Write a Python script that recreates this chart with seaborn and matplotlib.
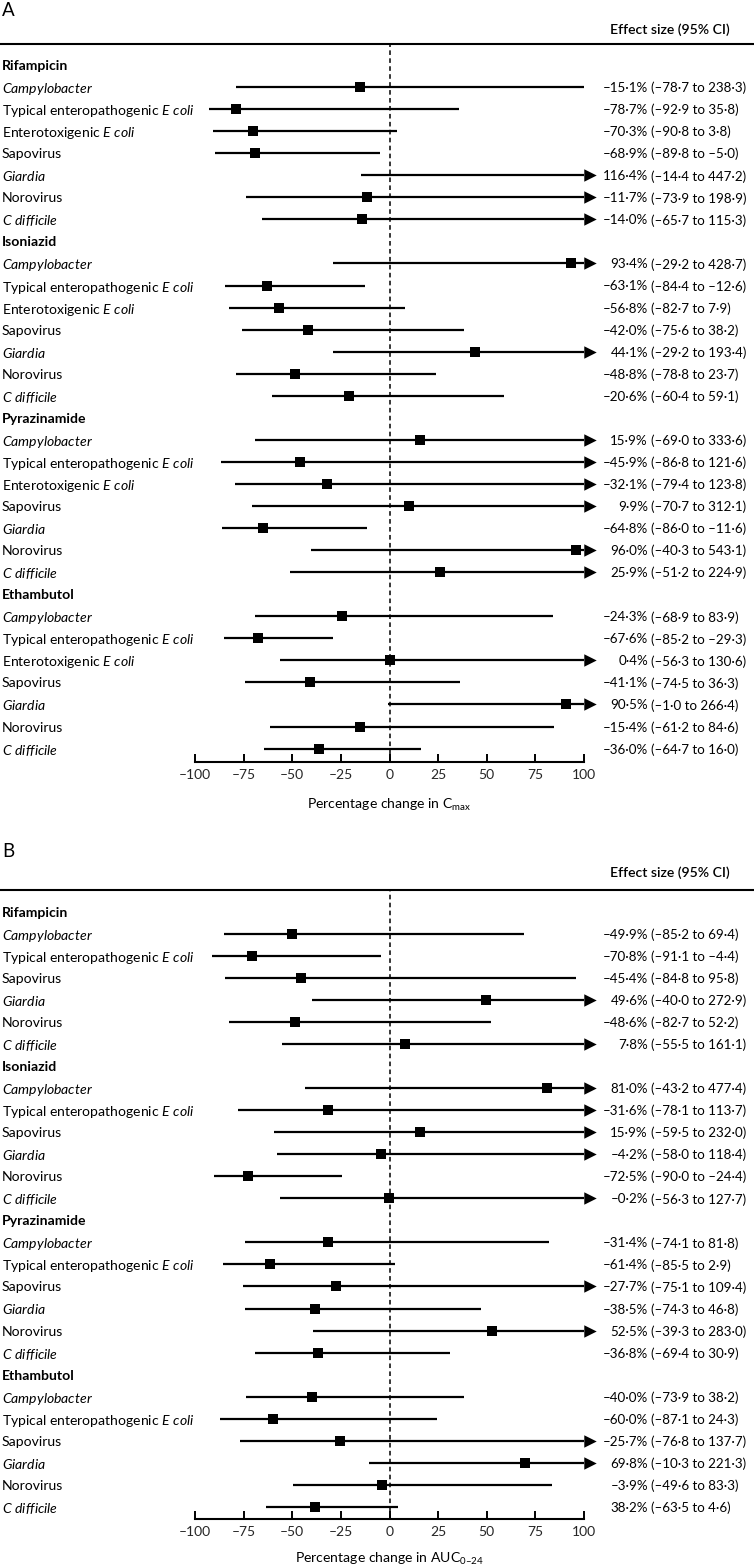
import numpy as np
import pandas as pd
import matplotlib
matplotlib.use('Agg')
import matplotlib.pyplot as plt
import matplotlib.transforms as mtransforms
from matplotlib.lines import Line2D
import seaborn as sns

drugs = ['Rifampicin', 'Isoniazid', 'Pyrazinamide', 'Ethambutol']

# panel A: Cmax
pathogens_cmax = ['Campylobacter', 'Typical enteropathogenic E coli', 'Enterotoxigenic E coli',
                  'Sapovirus', 'Giardia', 'Norovirus', 'C difficile']
cmax_est = [[-15.1, -78.7, -70.3, -68.9, 116.4, -11.7, -14.0],
            [93.4, -63.1, -56.8, -42.0, 44.1, -48.8, -20.6],
            [15.9, -45.9, -32.1, 9.9, -64.8, 96.0, 25.9],
            [-24.3, -67.6, 0.4, -41.1, 90.5, -15.4, -36.0]]
cmax_lo = [[-78.7, -92.9, -90.8, -89.8, -14.4, -73.9, -65.7],
           [-29.2, -84.4, -82.7, -75.6, -29.2, -78.8, -60.4],
           [-69.0, -86.8, -79.4, -70.7, -86.0, -40.3, -51.2],
           [-68.9, -85.2, -56.3, -74.5, -1.0, -61.2, -64.7]]
cmax_hi = [[238.3, 35.8, 3.8, -5.0, 447.2, 198.9, 115.3],
           [428.7, -12.6, 7.9, 38.2, 193.4, 23.7, 59.1],
           [333.6, 121.6, 123.8, 312.1, -11.6, 543.1, 224.9],
           [83.9, -29.3, 130.6, 36.3, 266.4, 84.6, 16.0]]
# the source draws this one without an arrowhead
cmax_no_arrow = {('Rifampicin', 'Campylobacter')}

# panel B: AUC0-24
pathogens_auc = ['Campylobacter', 'Typical enteropathogenic E coli', 'Sapovirus',
                 'Giardia', 'Norovirus', 'C difficile']
auc_est = [[-49.9, -70.8, -45.4, 49.6, -48.6, 7.8],
           [81.0, -31.6, 15.9, -4.2, -72.5, -0.2],
           [-31.4, -61.4, -27.7, -38.5, 52.5, -36.8],
           [-40.0, -60.0, -25.7, 69.8, -3.9, -38.2]]
auc_lo = [[-85.2, -91.1, -84.8, -40.0, -82.7, -55.5],
          [-43.2, -78.1, -59.5, -58.0, -90.0, -56.3],
          [-74.1, -85.5, -75.1, -74.3, -39.3, -69.4],
          [-73.9, -87.1, -76.8, -10.3, -49.6, -63.5]]
auc_hi = [[69.4, -4.4, 95.8, 272.9, 52.2, 161.1],
          [477.4, 113.7, 232.0, 118.4, -24.4, 127.7],
          [81.8, 2.9, 109.4, 46.8, 283.0, 30.9],
          [38.2, 24.3, 137.7, 221.3, 83.3, 4.6]]
# the printed label in the source differs from the plotted point here
auc_label_fix = {('Ethambutol', 'C difficile'): '38\u00b72%'}

xticks = [-100, -75, -50, -25, 0, 25, 50, 75, 100]

names_tex = {
    'Campylobacter': r'$\mathit{Campylobacter}$',
    'Typical enteropathogenic E coli': r'Typical enteropathogenic $\mathit{E\ coli}$',
    'Enterotoxigenic E coli': r'Enterotoxigenic $\mathit{E\ coli}$',
    'Sapovirus': 'Sapovirus',
    'Giardia': r'$\mathit{Giardia}$',
    'Norovirus': 'Norovirus',
    'C difficile': r'$\mathit{C\ difficile}$',
}

sns.set_theme(style='white')
plt.rcParams['font.family'] = ['Lato', 'DejaVu Sans']
plt.rcParams['mathtext.fontset'] = 'custom'
plt.rcParams['mathtext.rm'] = 'Lato'
plt.rcParams['mathtext.it'] = 'Lato:italic'
plt.rcParams['mathtext.bf'] = 'Lato:bold'
plt.rcParams['text.color'] = 'black'

W, H = 754, 1568
FS = 10.1      # left labels
FS_R = 9.6     # right column
STEP = 22.05
fig = plt.figure(figsize=(W / 100, H / 100), dpi=100)


def fmt(v):
    return f'{v:.1f}'.replace('.', '\u00b7').replace('-', '\u2013')


def panel(letter, letter_y, head_y, top, first, axis_y, label_y, pathogens, est, lo, hi,
          xlabel, fixes={}, no_arrow=set()):
    rows = []
    for d, drug in enumerate(drugs):
        rows.append(dict(label=drug, kind='head', drug=drug))
        for p, name in enumerate(pathogens):
            rows.append(dict(label=name, kind='item', drug=drug,
                             est=est[d][p], lo=lo[d][p], hi=hi[d][p]))
    df = pd.DataFrame(rows)
    df['row'] = np.arange(len(df))
    items = df[df.kind == 'item'].copy()
    items['end'] = items['hi'].clip(upper=100)
    items['arrow'] = [(h > 100) and ((dr, lb) not in no_arrow)
                      for h, dr, lb in zip(items['hi'], items['drug'], items['label'])]

    ax = fig.add_axes([195 / W, 1 - axis_y / H, (584 - 195) / W, (axis_y - top) / H])
    ax.set_xlim(-100, 100)
    ax.set_ylim((axis_y - first) / STEP, (top - first) / STEP)

    ax.axvline(0, color='black', lw=1.1, ls=(0, (3, 2.2)), zorder=1)
    ax.hlines(items['row'], items['lo'], items['end'], color='black', lw=1.6, zorder=2)

    shown = items[items['est'] <= 100]
    sns.scatterplot(data=shown, x='est', y='row', marker='s', s=42, color='black',
                    edgecolor='black', linewidth=0, zorder=3, ax=ax, clip_on=False)
    arrows = items[items['arrow']].copy()
    arrows['tip'] = ax.get_xlim()[1] + 3.2
    sns.scatterplot(data=arrows, x='tip', y='row', marker='>', s=80, color='black',
                    edgecolor='black', linewidth=0, zorder=3, ax=ax, clip_on=False)

    ax.set_xticks(xticks)
    ax.set_xticklabels([fmt(t).replace('\u00b70', '') for t in xticks])
    ax.set_yticks([])
    ax.set_xlabel('')
    ax.set_ylabel('')
    for s in ['left', 'top', 'right']:
        ax.spines[s].set_visible(False)
    ax.spines['bottom'].set_color('black')
    ax.spines['bottom'].set_linewidth(1.5)
    ax.tick_params(axis='x', direction='in', length=6, width=1.4, color='black',
                   pad=5, labelsize=10, bottom=True)

    trans = mtransforms.blended_transform_factory(fig.transFigure, ax.transData)
    for _, r in df.iterrows():
        if r['kind'] == 'head':
            ax.text(2 / W, r['row'], r['label'], transform=trans, ha='left',
                    va='center_baseline', fontsize=FS, fontweight='bold')
            continue
        ax.text(2 / W, r['row'], names_tex[r['label']], transform=trans, ha='left',
                va='center_baseline', fontsize=FS)
        val = fixes.get((r['drug'], r['label']), fmt(r['est']) + '%')
        ax.text(648 / W, r['row'], val, transform=trans, ha='right',
                va='center_baseline', fontsize=FS_R)
        ax.text(651 / W, r['row'], f"({fmt(r['lo'])} to {fmt(r['hi'])})", transform=trans,
                ha='left', va='center_baseline', fontsize=FS_R)

    fig.add_artist(Line2D([0, 1], [1 - top / H] * 2, transform=fig.transFigure,
                          color='black', lw=1.5))
    fig.text(2 / W, 1 - letter_y / H, letter, fontsize=13.5, va='center', ha='left')
    fig.text(670 / W, 1 - head_y / H, 'Effect size (95% CI)', fontsize=FS,
             fontweight='semibold', va='center', ha='center')
    fig.text(389.5 / W, 1 - label_y / H, xlabel, fontsize=FS, va='center', ha='center')
    return ax


panel('A', 10, 30, 44, 65, 762, 805, pathogens_cmax, cmax_est, cmax_lo, cmax_hi,
      r'Percentage change in C$_{\mathrm{max}}$', no_arrow=cmax_no_arrow)
panel('B', 851, 873, 890, 911.6, 1519, 1559, pathogens_auc, auc_est, auc_lo, auc_hi,
      'Percentage change in AUC$_{\\mathrm{0\u201324}}$', fixes=auc_label_fix)

fig.savefig('out.png', dpi=100)
